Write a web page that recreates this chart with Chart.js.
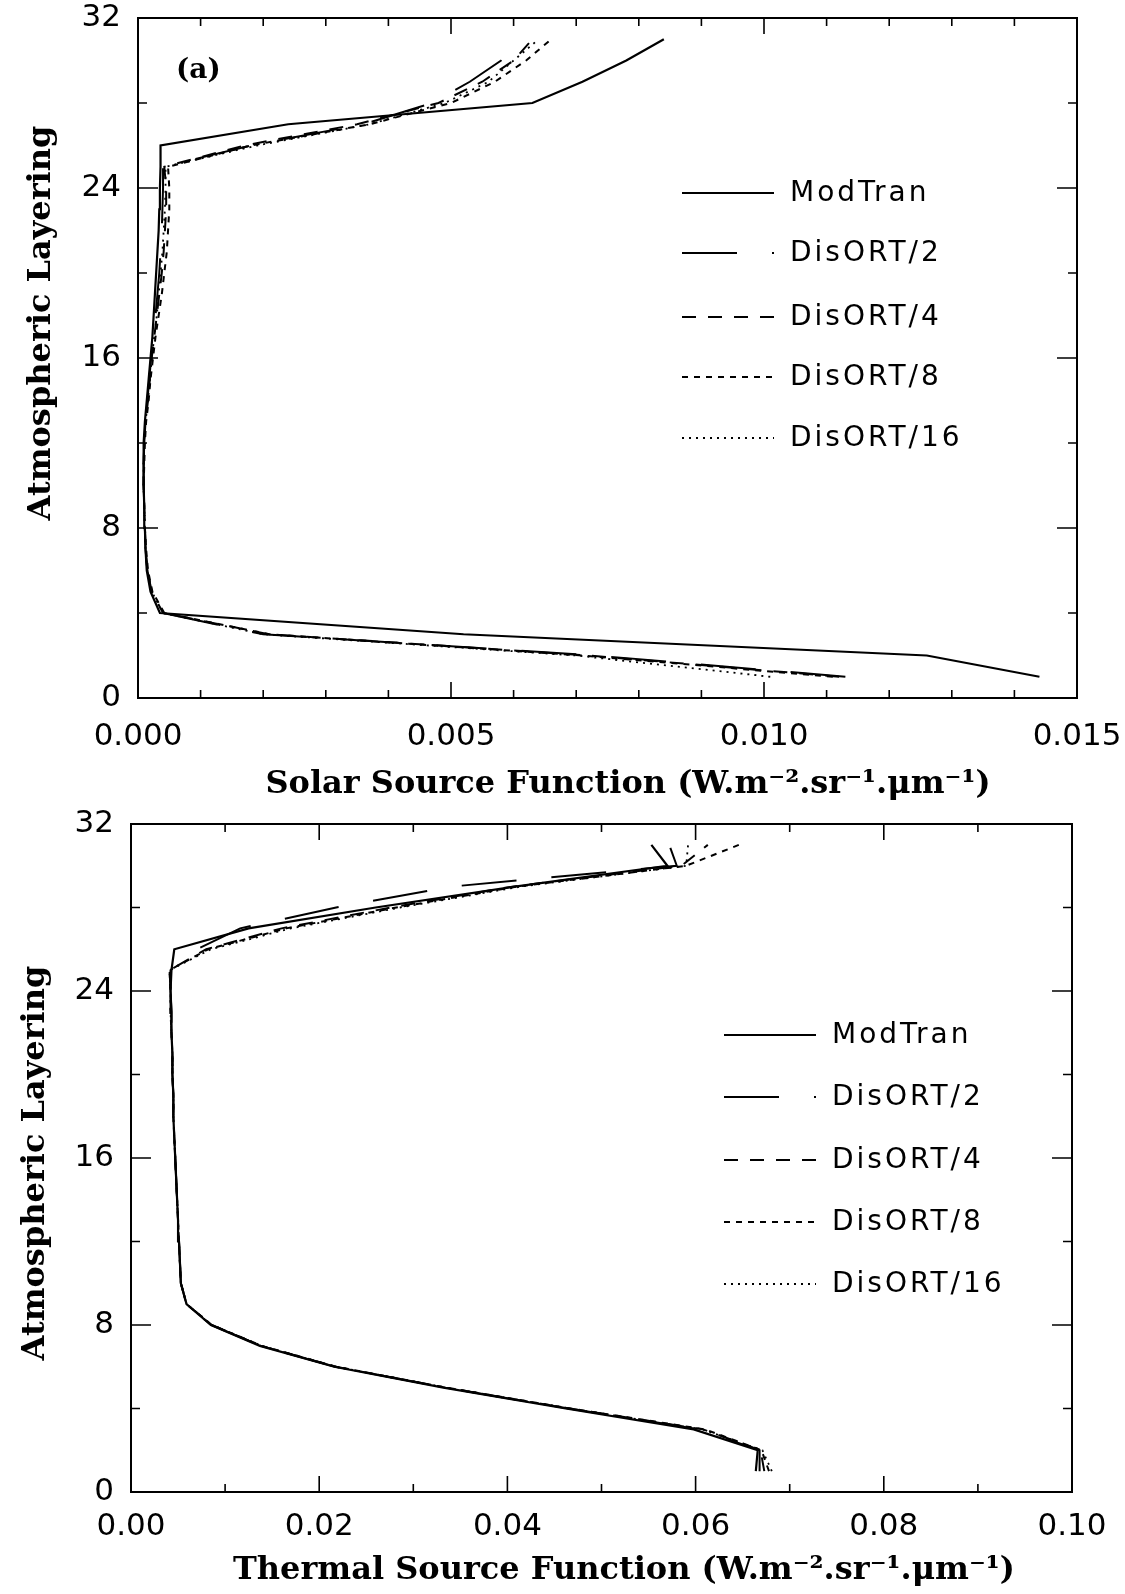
<!DOCTYPE html>
<html>
<head>
<meta charset="utf-8">
<title>Solar and thermal source function profiles</title>
<script src="https://cdn.jsdelivr.net/npm/chart.js@4.4.1/dist/chart.umd.min.js"></script>
<style>
  html, body { margin: 0; padding: 0; background: #fff; }
  .panel { position: relative; width: 1125px; }
  #solar-wrap { height: 806px; }
  #thermal-wrap { height: 788px; }
</style>
</head>
<body>
<div class="panel" id="solar-wrap"><canvas id="chart-solar"></canvas></div>
<div class="panel" id="thermal-wrap"><canvas id="chart-thermal"></canvas></div>
<script>
// atmospheric layer index (y) shared by both panels
var layers = [1, 2, 3, 4, 5, 6, 7, 8, 9, 10, 11, 12, 13, 14, 15, 16, 17, 18, 19, 20, 21, 22, 23, 24, 25, 26, 27, 28, 29, 30, 31];
var layerTicks = [0, 8, 16, 24, 32];

var seriesNames = ['ModTran', 'DisORT/2', 'DisORT/4', 'DisORT/8', 'DisORT/16'];

// (a) solar source function, W.m-2.sr-1.um-1
var solarTicks = [0, 0.005, 0.010, 0.015];
var modtranSolar = [0.0144, 0.0126, 0.0052, 0.00035, 0.00020, 0.00014, 0.00012, 0.00011, 0.00010, 0.00009, 0.00009, 0.00009, 0.00011, 0.00014, 0.00017, 0.00020, 0.00023, 0.00025, 0.00027, 0.00029, 0.00031, 0.00033, 0.00034, 0.00035, 0.00036, 0.00036, 0.0024, 0.0063, 0.0071, 0.0078, 0.0084];
var disort2Solar = [0.0113, 0.0073, 0.0020, 0.00040, 0.00022, 0.00015, 0.00012, 0.00011, 0.00010, 0.00009, 0.00009, 0.00010, 0.00012, 0.00015, 0.00018, 0.00021, 0.00025, 0.00028, 0.00031, 0.00034, 0.00036, 0.00038, 0.00039, 0.00040, 0.00040, 0.0018, 0.0036, 0.0047, 0.0053, 0.0058, 0.0061];
var disort4Solar = [0.0112, 0.0072, 0.0021, 0.00040, 0.00022, 0.00015, 0.00012, 0.00011, 0.00010, 0.00009, 0.00009, 0.00010, 0.00012, 0.00016, 0.00019, 0.00022, 0.00026, 0.00030, 0.00034, 0.00038, 0.00041, 0.00043, 0.00045, 0.00045, 0.00042, 0.0017, 0.0035, 0.0048, 0.0055, 0.0060, 0.0063];
var disort8Solar = [0.0111, 0.0071, 0.0021, 0.00042, 0.00023, 0.00016, 0.00013, 0.00011, 0.00010, 0.00009, 0.00010, 0.00011, 0.00013, 0.00017, 0.00020, 0.00024, 0.00028, 0.00033, 0.00038, 0.00042, 0.00046, 0.00048, 0.00050, 0.00050, 0.00048, 0.0018, 0.0037, 0.0050, 0.0057, 0.0062, 0.0066];
var disort16Solar = [0.0101, 0.0070, 0.0020, 0.00040, 0.00022, 0.00015, 0.00012, 0.00011, 0.00010, 0.00009, 0.00009, 0.00010, 0.00012, 0.00016, 0.00019, 0.00022, 0.00026, 0.00030, 0.00033, 0.00036, 0.00039, 0.00041, 0.00043, 0.00044, 0.00044, 0.0019, 0.0037, 0.0049, 0.0056, 0.0060, 0.0064];

// thermal source function, W.m-2.sr-1.um-1
var thermalTicks = [0, 0.02, 0.04, 0.06, 0.08, 0.10];
var modtranThermal = [0.0664, 0.0666, 0.0598, 0.0462, 0.0332, 0.0216, 0.0137, 0.0085, 0.0059, 0.0053, 0.0052, 0.0051, 0.0050, 0.0049, 0.0048, 0.0047, 0.0046, 0.0045, 0.0045, 0.0044, 0.0044, 0.0043, 0.0043, 0.0042, 0.0043, 0.0046, 0.0125, 0.0260, 0.0408, 0.0570, 0.0553];
var disort2Thermal = [0.0668, 0.0668, 0.0604, 0.0465, 0.0334, 0.0217, 0.0138, 0.0085, 0.0059, 0.0053, 0.0052, 0.0051, 0.0050, 0.0049, 0.0048, 0.0047, 0.0046, 0.0045, 0.0045, 0.0044, 0.0044, 0.0043, 0.0043, 0.0042, 0.0042, 0.0070, 0.0116, 0.0218, 0.0340, 0.0580, 0.0572];
var disort4Thermal = [0.0673, 0.0669, 0.0608, 0.0466, 0.0334, 0.0218, 0.0138, 0.0086, 0.0059, 0.0053, 0.0052, 0.0051, 0.0050, 0.0049, 0.0048, 0.0047, 0.0046, 0.0045, 0.0045, 0.0044, 0.0044, 0.0043, 0.0042, 0.0042, 0.0041, 0.0080, 0.0160, 0.0276, 0.0405, 0.0585, 0.0613];
var disort8Thermal = [0.0678, 0.0670, 0.0610, 0.0467, 0.0335, 0.0218, 0.0139, 0.0086, 0.0059, 0.0053, 0.0052, 0.0051, 0.0050, 0.0049, 0.0048, 0.0047, 0.0046, 0.0045, 0.0045, 0.0044, 0.0044, 0.0043, 0.0042, 0.0042, 0.0041, 0.0082, 0.0165, 0.0282, 0.0410, 0.0590, 0.0646];
var disort16Thermal = [0.0681, 0.0671, 0.0607, 0.0466, 0.0335, 0.0218, 0.0139, 0.0086, 0.0059, 0.0053, 0.0052, 0.0051, 0.0050, 0.0049, 0.0048, 0.0047, 0.0046, 0.0045, 0.0045, 0.0044, 0.0044, 0.0043, 0.0042, 0.0042, 0.0041, 0.0085, 0.0170, 0.0286, 0.0414, 0.0590, 0.0592];

(function () {
  'use strict';

  if (typeof Chart === 'undefined') { return; }

  var INK = '#000';
  var TICK_FONT = { family: '"DejaVu Sans", sans-serif', size: 31 };
  var TITLE_CSS = 'bold 32px "DejaVu Serif", "Liberation Serif", serif';

  // line styles for ModTran, DisORT/2, /4, /8, /16
  var dashes = [[], [55, 35], [14, 12], [6, 6], [2, 5]];
  var widths = [2.2, 2, 2, 2, 1.8];

  function toPoints(xs) {
    return xs.map(function (x, i) { return { x: x, y: layers[i] }; });
  }

  function makeDatasets(columns) {
    return columns.map(function (xs, i) {
      return {
        label: seriesNames[i],
        data: toPoints(xs),
        showLine: true,
        borderColor: INK,
        borderWidth: widths[i],
        borderDash: dashes[i],
        pointRadius: 0,
        fill: false,
        tension: 0
      };
    });
  }

  // box, inward ticks on all four sides, axis titles, legend and panel tag
  var framePlugin = {
    id: 'frame',
    afterDraw: function (chart, args, o) {
      var ctx = chart.ctx, a = chart.chartArea;
      var xs = chart.scales.x, ys = chart.scales.y;
      var i, v, p, len;
      ctx.save();
      ctx.strokeStyle = INK;
      ctx.fillStyle = INK;
      ctx.lineWidth = 2;
      ctx.setLineDash([]);
      ctx.strokeRect(a.left, a.top, a.right - a.left, a.bottom - a.top);

      ctx.lineWidth = 1.6;
      ctx.beginPath();
      var nx = Math.round((xs.max - xs.min) / o.xMinor);
      var xEvery = Math.round(o.xMajor / o.xMinor);
      for (i = 1; i < nx; i++) {
        v = xs.min + i * o.xMinor;
        p = xs.getPixelForValue(v);
        len = (i % xEvery === 0) ? 16 : 8;
        ctx.moveTo(p, a.bottom); ctx.lineTo(p, a.bottom - len);
        ctx.moveTo(p, a.top); ctx.lineTo(p, a.top + len);
      }
      var ny = Math.round((ys.max - ys.min) / o.yMinor);
      var yEvery = Math.round(o.yMajor / o.yMinor);
      for (i = 1; i < ny; i++) {
        v = ys.min + i * o.yMinor;
        p = ys.getPixelForValue(v);
        len = (i % yEvery === 0) ? 20 : 9;
        ctx.moveTo(a.left, p); ctx.lineTo(a.left + len, p);
        ctx.moveTo(a.right, p); ctx.lineTo(a.right - len, p);
      }
      ctx.stroke();

      // axis titles
      ctx.font = TITLE_CSS;
      ctx.textAlign = 'center';
      ctx.textBaseline = 'middle';
      ctx.fillText(o.xTitle, o.xTitleAt[0], o.xTitleAt[1]);
      ctx.save();
      ctx.translate(o.yTitleAt[0], o.yTitleAt[1]);
      ctx.rotate(-Math.PI / 2);
      ctx.fillText('Atmospheric Layering', 0, 0);
      ctx.restore();

      // legend
      ctx.font = '28px "DejaVu Sans", sans-serif';
      ctx.textAlign = 'left';
      if ('letterSpacing' in ctx) { ctx.letterSpacing = '3px'; }
      chart.data.datasets.forEach(function (ds, k) {
        var lx = a.left + o.legendX, ly = a.top + o.legendRows[k];
        ctx.lineWidth = ds.borderWidth;
        ctx.setLineDash(ds.borderDash);
        ctx.beginPath();
        ctx.moveTo(lx, ly); ctx.lineTo(lx + o.legendLen, ly);
        ctx.stroke();
        ctx.fillText(ds.label, lx + o.legendLen + 16, ly + 1);
      });
      if ('letterSpacing' in ctx) { ctx.letterSpacing = '0px'; }

      if (o.tag) {
        ctx.font = 'bold 28px "DejaVu Serif", "Liberation Serif", serif';
        ctx.fillText(o.tag, a.left + 38, a.top + 53);
      }
      ctx.restore();
    }
  };

  function render(id, cfg) {
    var el = document.getElementById(id);
    if (!el) { return; }
    new Chart(el, {
      type: 'scatter',
      data: { datasets: makeDatasets(cfg.columns) },
      plugins: [framePlugin],
      options: {
        responsive: true,
        maintainAspectRatio: false,
        animation: false,
        devicePixelRatio: 1,
        layout: { padding: { top: 18, right: cfg.padRight, left: 0, bottom: 0 } },
        plugins: {
          legend: { display: false },
          tooltip: { enabled: false },
          frame: cfg.frame
        },
        scales: {
          x: {
            type: 'linear',
            min: cfg.xTicks[0],
            max: cfg.xTicks[cfg.xTicks.length - 1],
            afterBuildTicks: function (s) { s.ticks = cfg.xTicks.map(function (t) { return { value: t }; }); },
            afterFit: function (s) {
              s.height = cfg.xHeight;
              s.paddingLeft = 0;
              s.paddingRight = 0;
            },
            ticks: {
              color: INK, font: TICK_FONT, padding: cfg.xPad, maxRotation: 0, autoSkip: false,
              callback: function (val) { return Number(val).toFixed(cfg.digits); }
            },
            grid: { display: false, drawTicks: false },
            border: { display: false }
          },
          y: {
            type: 'linear',
            min: 0,
            max: 32,
            afterBuildTicks: function (s) { s.ticks = layerTicks.map(function (t) { return { value: t }; }); },
            afterFit: function (s) {
              s.width = cfg.yWidth;
              s.paddingTop = 0;
              s.paddingBottom = 0;
            },
            ticks: { color: INK, font: TICK_FONT, padding: 17 },
            grid: { display: false, drawTicks: false },
            border: { display: false }
          }
        }
      }
    });
  }

  render('chart-solar', {
    columns: [modtranSolar, disort2Solar, disort4Solar, disort8Solar, disort16Solar],
    xTicks: solarTicks,
    digits: 3,
    padRight: 48,
    yWidth: 138,
    xHeight: 108,
    xPad: 20,
    frame: {
      xMinor: 0.001, xMajor: 0.005, yMinor: 4, yMajor: 8,
      xTitle: 'Solar Source Function (W.m\u207B\u00B2.sr\u207B\u00B9.\u03BCm\u207B\u00B9)',
      xTitleAt: [628, 785],
      yTitleAt: [42, 323],
      legendX: 544, legendLen: 92, legendRows: [175, 235, 299, 359, 420],
      tag: '(a)'
    }
  });

  render('chart-thermal', {
    columns: [modtranThermal, disort2Thermal, disort4Thermal, disort8Thermal, disort16Thermal],
    xTicks: thermalTicks,
    digits: 2,
    padRight: 53,
    yWidth: 131,
    xHeight: 102,
    xPad: 16,
    frame: {
      xMinor: 0.01, xMajor: 0.02, yMinor: 4, yMajor: 8,
      xTitle: 'Thermal Source Function (W.m\u207B\u00B2.sr\u207B\u00B9.\u03BCm\u207B\u00B9)',
      xTitleAt: [624, 765],
      yTitleAt: [36, 357],
      legendX: 593, legendLen: 92, legendRows: [211, 273, 336, 398, 460],
      tag: null
    }
  });
})();
</script>
</body>
</html>
